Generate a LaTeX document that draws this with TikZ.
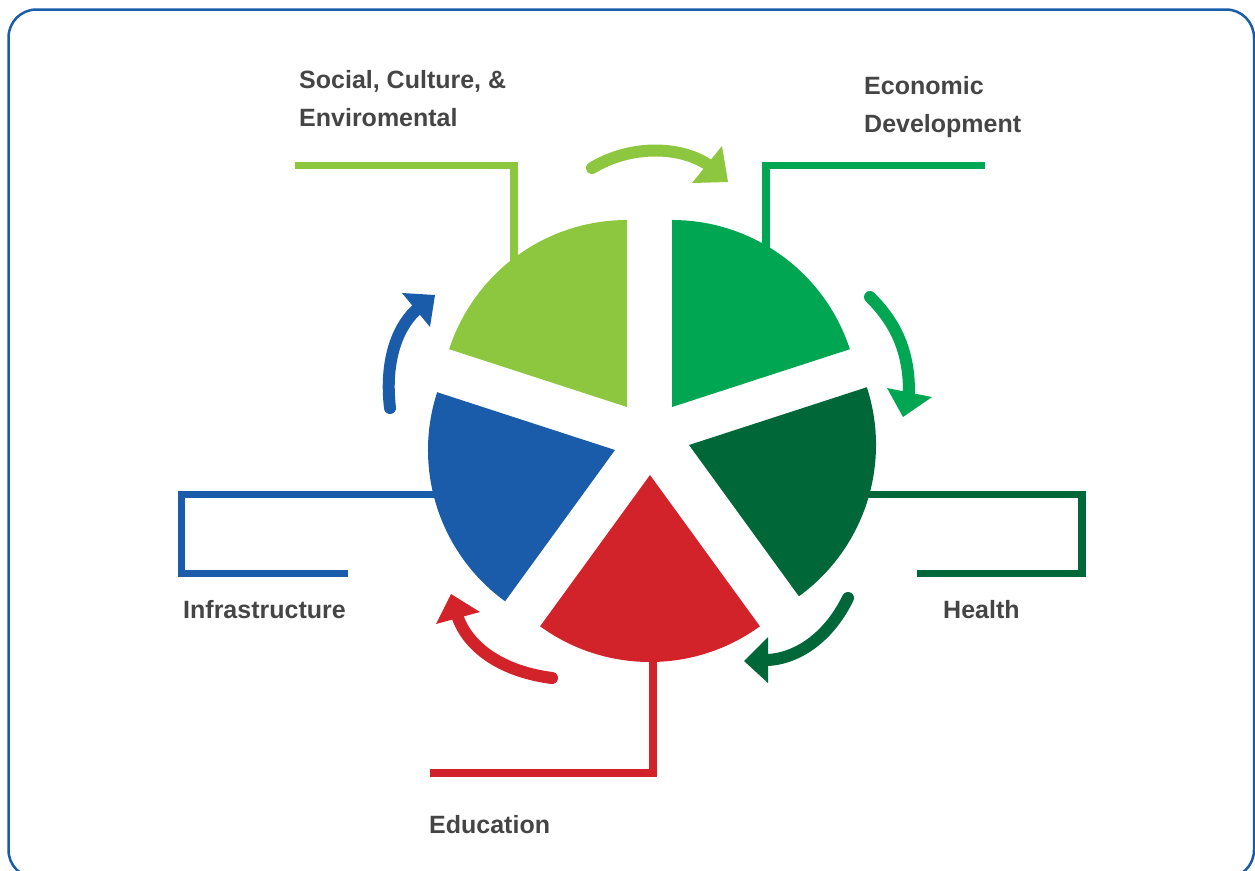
\documentclass[tikz,border=0pt]{standalone}
\usepackage{fontspec}
\setmainfont{Liberation Sans}
\definecolor{lgreen}{HTML}{8DC63F}
\definecolor{mgreen}{HTML}{00A651}
\definecolor{dgreen}{HTML}{006838}
\definecolor{cred}{HTML}{D2232A}
\definecolor{cblue}{HTML}{1A5CAA}
\definecolor{tgray}{HTML}{454545}
\begin{document}
\begin{tikzpicture}[x=1pt,y=-1pt,
  leader/.style={line width=7.5pt,line join=miter,line cap=butt},
  shaft/.style={line width=12pt,line cap=round},
  label/.style={anchor=base west,inner sep=0pt,font=\fontsize{25}{38}\selectfont\bfseries,text=tgray,align=left}]
\useasboundingbox (0,0) rectangle (1255,870);
\clip (0,0) rectangle (1255,870);
% leader lines
\draw[leader,lgreen] (295,165.5) -- (514,165.5) -- (514,270);
\draw[leader,mgreen] (985,165.5) -- (766,165.5) -- (766,255);
\draw[leader,dgreen] (855,494.5) -- (1082,494.5) -- (1082,573.3) -- (917,573.3);
\draw[leader,cblue] (445,494.5) -- (181.7,494.5) -- (181.7,573.3) -- (347.7,573.3);
\draw[leader,cred] (653,640) -- (653,773) -- (430,773);
% sectors
\fill[lgreen] (627,407) -- ++(-90:187) arc[start angle=-90,end angle=-162,radius=187] -- cycle;
\fill[mgreen] (672,407) -- ++(-90:187) arc[start angle=-90,end angle=-18,radius=187] -- cycle;
\fill[dgreen] (689,445) -- ++(-18:187) arc[start angle=-18,end angle=54,radius=187] -- cycle;
\fill[cred] (650,475) -- ++(54:187) arc[start angle=54,end angle=126,radius=187] -- cycle;
\fill[cblue] (615,450) -- ++(126:187) arc[start angle=126,end angle=198,radius=187] -- cycle;
% cycle arrows
\draw[shaft,lgreen] (592,168) .. controls (630,145) and (680,145) .. (710,166);
\fill[lgreen] (722,146) -- (728,182) -- (692,183) -- cycle;
\draw[shaft,mgreen] (870,297) .. controls (895,322) and (909,350) .. (909,392);
\fill[mgreen] (887,388) -- (932,397) -- (903,417) -- cycle;
\draw[shaft,dgreen] (848,598) .. controls (830,635) and (800,658) .. (768,660);
\fill[dgreen] (768,637) -- (768,683) -- (744,661) -- cycle;
\draw[shaft,cred] (552,678) .. controls (505,672) and (470,650) .. (458,618);
\fill[cred] (436,624) -- (451,594) -- (480,612) -- cycle;
\draw[shaft,cblue] (390,408) .. controls (385,365) and (395,330) .. (416,310);
\fill[cblue] (402,293) -- (435,295) -- (430,327) -- cycle;
% labels
\node[label] (social) at (299,126) {Social, Culture, \&\\Enviromental};
\node[label] (econ) at (864,132) {Economic\\Development};
\node[label] (health) at (943,618) {Health};
\node[label] (infra) at (183,618) {Infrastructure};
\node[label] (edu) at (429,833) {Education};
% frame
\draw[cblue,line width=2.5pt,rounded corners=28pt] (8.5,9.5) rectangle (1254,878);
\end{tikzpicture}
\end{document}
